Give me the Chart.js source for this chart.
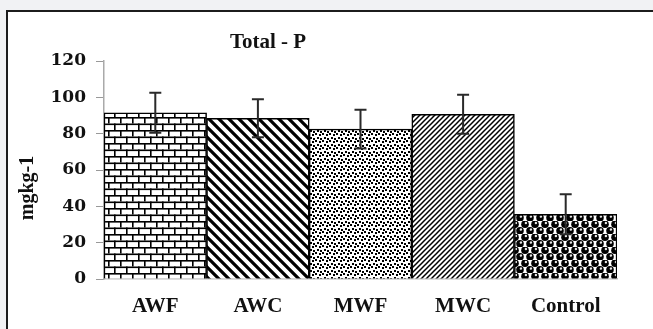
<!DOCTYPE html>
<html>
<head>
<meta charset="utf-8">
<script src="https://cdn.jsdelivr.net/npm/chart.js@4.4.1/dist/chart.umd.min.js"></script>
<style>
  html, body { margin: 0; padding: 0; background: #f1f2f4; overflow: hidden; }
  #frame { position: absolute; left: 6px; top: 10px; width: 660px; height: 340px;
           background: #fff; border-left: 2px solid #1c1c1c; border-top: 2px solid #1c1c1c; }
  #wrap { position: absolute; left: 0; top: 0; width: 653px; height: 329px; }
</style>
</head>
<body>
<div id="frame"></div>
<div id="wrap"><canvas id="chart"></canvas></div>
<script>

let categories = ['AWF', 'AWC', 'MWF', 'MWC', 'Control'];
let totalP = [91.5, 88.5, 82.5, 90.7, 35.6];
let errorP = [11, 10.5, 10.7, 10.7, 11];
let yTicks = [0, 20, 40, 60, 80, 100, 120];

let serif = '"Liberation Serif", "Times New Roman", serif';
let tickSerif = '"DejaVu Serif", serif';

function makeTile(w, h, draw){
  var c = document.createElement('canvas');
  c.width = w; c.height = h;
  var g = c.getContext('2d');
  g.fillStyle = '#fff';
  g.fillRect(0, 0, w, h);
  g.fillStyle = '#000';
  g.strokeStyle = '#000';
  draw(g, w, h);
  return document.getElementById('chart').getContext('2d').createPattern(c, 'repeat');
}

// brick
var brick = makeTile(12, 13, function(g){
  g.fillRect(0, 0, 12, 1.6);
  g.fillRect(0, 6.5, 12, 1.6);
  g.fillRect(0, 0, 1.6, 6.5);
  g.fillRect(6, 6.5, 1.6, 6.5);
});

// wide backslash stripes
var wideDiag = makeTile(10, 10, function(g){
  g.lineWidth = 3.2;
  g.beginPath();
  g.moveTo(-5, -5); g.lineTo(15, 15);
  g.moveTo(-15, -5); g.lineTo(5, 15);
  g.moveTo(5, -5); g.lineTo(25, 15);
  g.stroke();
});

// dots
var dots = makeTile(7, 7, function(g){
  g.fillRect(0, 0, 2, 2);
  g.fillRect(4, 1, 2, 2);
  g.fillRect(2, 4, 2, 2);
  g.fillRect(5, 5, 2, 2);
});

// fine slash stripes
var fineDiag = makeTile(5, 5, function(g){
  g.lineWidth = 1.5;
  g.beginPath();
  g.moveTo(-2, 7); g.lineTo(7, -2);
  g.moveTo(-7, 7); g.lineTo(2, -2);
  g.moveTo(3, 7); g.lineTo(12, -2);
  g.stroke();
});

// spheres
var spheres = makeTile(10, 13, function(g){
  function ball(x, y){
    g.fillStyle = '#000';
    g.beginPath(); g.arc(x, y, 3.8, 0, Math.PI * 2); g.fill();
    g.fillStyle = '#e6e6e6';
    g.beginPath(); g.arc(x + 0.9, y - 1.2, 1.2, 0, Math.PI * 2); g.fill();
  }
  ball(5, 3.25);
  ball(0, 9.75);
  ball(10, 9.75);
});

let patterns = [brick, wideDiag, dots, fineDiag, spheres];

let errorBars = {
  id: 'errorBars',
  afterDatasetsDraw(chart){
    var ctx = chart.ctx;
    var y = chart.scales.y;
    var meta = chart.getDatasetMeta(0);
    ctx.save();
    ctx.strokeStyle = '#2a2a2a';
    ctx.lineWidth = 2;
    for (var i = 0; i < totalP.length; i++){
      var x = meta.data[i].x;
      var top = y.getPixelForValue(totalP[i] + errorP[i]);
      var bot = y.getPixelForValue(totalP[i] - errorP[i]);
      ctx.beginPath();
      ctx.moveTo(x, top); ctx.lineTo(x, bot);
      ctx.moveTo(x - 6, top); ctx.lineTo(x + 6, top);
      ctx.moveTo(x - 6, bot); ctx.lineTo(x + 6, bot);
      ctx.stroke();
    }
    ctx.restore();
  }
};

let titles = {
  id: 'titles',
  afterDraw(chart){
    var ctx = chart.ctx;
    ctx.save();
    ctx.fillStyle = '#111';
    ctx.textAlign = 'center';
    ctx.textBaseline = 'middle';
    ctx.font = 'bold 21px ' + serif;
    ctx.fillText('Total - P', 268, 43);
    ctx.translate(28, 188);
    ctx.rotate(-Math.PI / 2);
    ctx.font = 'bold 20px ' + serif;
    ctx.fillText('mgkg-1', 0, 0);
    ctx.restore();
  }
};

new Chart(document.getElementById('chart'), {
  type: 'bar',
  data: {
    labels: categories,
    datasets: [{
      label: 'Total - P',
      data: totalP,
      backgroundColor: patterns,
      borderColor: '#000',
      borderWidth: 1.5,
      barPercentage: 1,
      categoryPercentage: 1
    }]
  },
  options: {
    responsive: true,
    maintainAspectRatio: false,
    animation: false,
    layout: { padding: { left: 0, right: 36, top: 61, bottom: 0 } },
    plugins: {
      legend: { display: false },
      title: { display: false },
      tooltip: { enabled: false }
    },
    scales: {
      x: {
        afterFit(scale){ scale.height = 50; },
        grid: { display: false, drawTicks: false },
        border: { display: true, color: '#bbb', width: 1.5 },
        ticks: {
          padding: 15,
          color: '#111',
          font: { family: serif, size: 21, weight: 'bold' }
        }
      },
      y: {
        min: 0,
        max: 120,
        afterFit(scale){ scale.width = 104; },
        afterBuildTicks(scale){ scale.ticks = yTicks.map(function(v){ return { value: v }; }); },
        grid: { drawOnChartArea: false, drawTicks: true, tickLength: 8, color: '#999', lineWidth: 1 },
        border: { display: true, color: '#aaa', width: 1.5 },
        ticks: {
          padding: 10,
          color: '#111',
          font: { family: tickSerif, size: 17, weight: 'bold' }
        }
      }
    }
  },
  plugins: [errorBars, titles]
});
</script>
</body>
</html>
